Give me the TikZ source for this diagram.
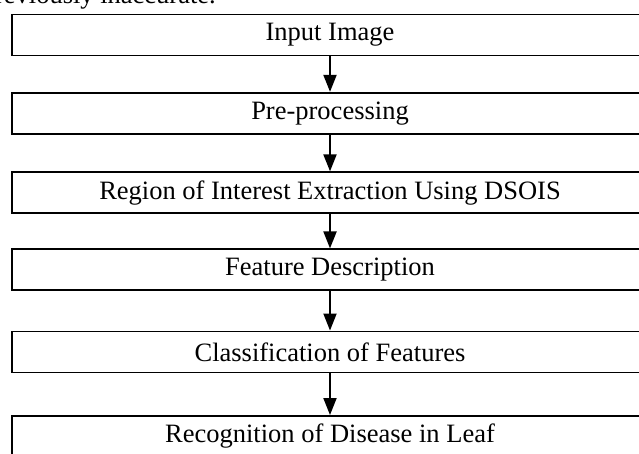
\documentclass[tikz,border=0pt]{standalone}
\usepackage{fontspec}
\setmainfont{Liberation Serif}
\usetikzlibrary{arrows.meta}
\begin{document}
\begin{tikzpicture}[x=1pt,y=-1pt,
  stagebox/.style={draw=black, line width=1.9pt, rectangle, minimum width=636pt,
    minimum height=41pt, inner sep=0pt, font=\fontsize{26.5}{30}\selectfont},
  flowarrow/.style={line width=1.9pt, -{Triangle[length=17pt,width=13pt]}}]
\useasboundingbox (0,0) rectangle (639,453);
\fill[white] (0,0) rectangle (639,453);
\node[anchor=base east, inner sep=0pt, font=\fontsize{26.5}{30}\selectfont] (prev) at (216,3) {previously inaccurate.};
\node[stagebox] (b1) at (330,35) {Input Image};
\node[stagebox] (b2) at (330,113.3) {Pre-processing};
\node[stagebox] (b3) at (330,192.8) {Region of Interest Extraction Using DSOIS};
\node[stagebox] (b4) at (330,269.9) {Feature Description};
\node[stagebox] (b5) at (330,352) {Classification of Features};
\node[stagebox] (b6) at (330,436.5) {Recognition of Disease in Leaf};
\draw[flowarrow] (b1) -- (b2);
\draw[flowarrow] (b2) -- (b3);
\draw[flowarrow] (b3) -- (b4);
\draw[flowarrow] (b4) -- (b5);
\draw[flowarrow] (b5) -- (b6);
\end{tikzpicture}
\end{document}
